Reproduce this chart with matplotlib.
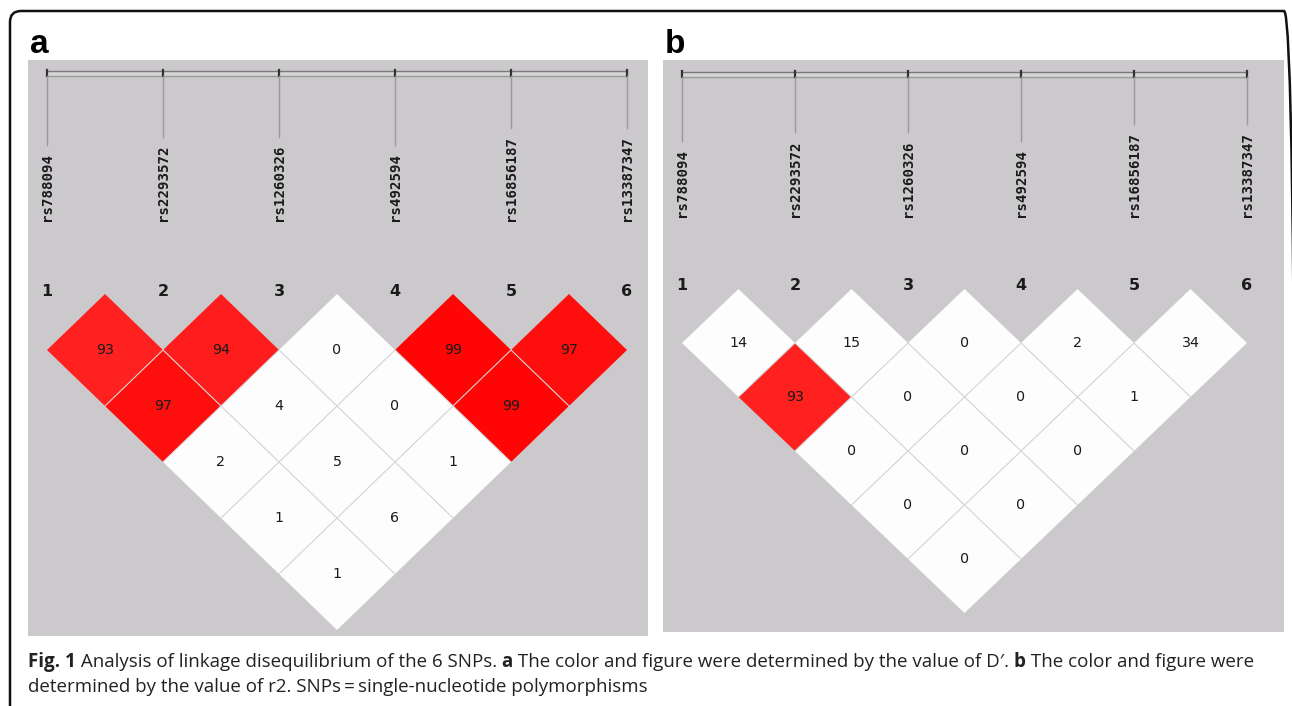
import numpy as np
import matplotlib.pyplot as plt
from matplotlib.patches import Polygon, FancyBboxPatch
from matplotlib.text import Annotation

snps = ['rs788094', 'rs2293572', 'rs1260326', 'rs492594', 'rs16856187', 'rs13387347']

# LD values, one row per distance (row 1 = neighbouring SNPs)
dprime = [[93, 94, 0, 99, 97],
          [97, 4, 0, 99],
          [2, 5, 1],
          [1, 6],
          [1]]
rsq = [[14, 15, 0, 2, 34],
       [93, 0, 0, 1],
       [0, 0, 0],
       [0, 0],
       [0]]

W, H = 1292, 706
bg = '#cbc9cc'


def ld_color(v):
    if v < 90:
        return '#fdfdfd'
    g = min(1.0, (100 - v) / 100 * 1.8)
    return (1.0, g, g)


def draw_panel(ax, values, box, snp0, step, y0, step_y, ruler, lab_bot, num_base):
    left, top, right, bottom = box
    py = lambda p: (p - y0) / step_y
    ax.set_facecolor(bg)
    ax.set_xlim(1 - (snp0 - left) / step, 1 + (right - snp0) / step)
    ax.set_ylim(py(bottom), py(top))
    ax.set_xticks([])
    ax.set_yticks([])
    for s in ax.spines.values():
        s.set_visible(False)

    n = len(snps)
    xs = np.arange(1, n + 1)

    # ruler
    r0, r1 = py(ruler), py(ruler + 5)
    ax.fill_between([1, n], r0, r1, color='#d6d5d7', lw=0)
    ax.plot([1, n], [r0, r0], color='#7a7a7a', lw=1.0)
    ax.plot([1, n], [r1, r1], color='#9a9a9a', lw=1.0)
    for x in xs:
        ax.plot([x, x], [py(ruler - 1), py(ruler + 5.5)], color='#333333', lw=1.6)

    # snp names and numbers
    labels = []
    for x, name in zip(xs, snps):
        t = ax.text(x, py(lab_bot), name, rotation=90, ha='center', va='bottom',
                    family='DejaVu Sans Mono', fontweight='bold', fontsize=10.2,
                    color='#1a1a1a')
        labels.append(t)
        ax.text(x, py(num_base), str(x), ha='center', va='baseline', fontweight='bold',
                fontsize=11.5, color='#1a1a1a')
    ax.figure.canvas.draw()
    inv = ax.transData.inverted()
    for x, t in zip(xs, labels):
        bb = t.get_window_extent()
        _, ytop = inv.transform((0, bb.y1 + 8))
        ax.plot([x, x], [r1, ytop], color='#9a9a9a', lw=1.0)

    # diamonds
    for d, row in enumerate(values, start=1):
        for i, v in enumerate(row, start=1):
            cx = i + d / 2
            cy = d / 2
            pts = [(cx, cy - 0.5), (cx + 0.5, cy), (cx, cy + 0.5), (cx - 0.5, cy)]
            ax.add_patch(Polygon(pts, closed=True, facecolor=ld_color(v), edgecolor='none'))
            ax.text(cx, cy, str(v), ha='center', va='center', fontsize=10.3, color='#1a1a1a')
    # inner cell borders only
    for d, row in enumerate(values, start=1):
        for i, v in enumerate(row, start=1):
            cx = i + d / 2
            cy = d / 2
            if i > 1:
                ax.plot([cx - 0.5, cx], [cy, cy + 0.5], color='#d4d4d4', lw=0.8)
            if i + d < n:
                ax.plot([cx + 0.5, cx], [cy, cy + 0.5], color='#d4d4d4', lw=0.8)


fig = plt.figure(figsize=(W / 100, H / 100), dpi=100)


def rect(left, top, right, bottom):
    return [left / W, 1 - bottom / H, (right - left) / W, (bottom - top) / H]


# outer rounded frame (inch units so the corners stay round)
frame = FancyBboxPatch((0.10, -0.5), 12.85, H / 100 - 0.11 + 0.5,
                       boxstyle='round,pad=0,rounding_size=0.11',
                       transform=fig.dpi_scale_trans, facecolor='none',
                       edgecolor='#111111', lw=1.8, clip_on=False)
fig.patches.append(frame)

box_a = (28, 60, 648, 636)
box_b = (663, 60, 1284, 632)
ax_a = fig.add_axes(rect(*box_a))
ax_b = fig.add_axes(rect(*box_b))
draw_panel(ax_a, dprime, box_a, 47, 116, 294, 112, 71, 221, 296)
draw_panel(ax_b, rsq, box_b, 682, 113, 289, 108, 72, 217, 290)

fig.text(30 / W, 1 - 53 / H, 'a', fontsize=24, fontweight='bold',
         family='Liberation Sans', va='baseline')
fig.text(665 / W, 1 - 53 / H, 'b', fontsize=24, fontweight='bold',
         family='Liberation Sans', va='baseline')

# caption, mixed weights placed one after another
cap = dict(family='Open Sans', fontsize=13.5, color='#222222', va='baseline')
parts = [('Fig. 1', 'bold'),
         (' Analysis of linkage disequilibrium of the 6 SNPs. ', 'normal'),
         ('a', 'bold'),
         (' The color and figure were determined by the value of D\u2032. ', 'normal'),
         ('b', 'bold'),
         (' The color and figure were', 'normal')]
base1 = 1 - 667 / H
prev = fig.text(28 / W, base1, parts[0][0], fontweight=parts[0][1], **cap)
for txt, wt in parts[1:]:
    prev = fig.add_artist(Annotation(txt, xy=(1, base1), xycoords=(prev, 'figure fraction'),
                                     fontweight=wt, annotation_clip=False, **cap))
fig.text(28 / W, 1 - 692 / H,
         'determined by the value of r2. SNPs\u2009=\u2009single-nucleotide polymorphisms', **cap)

fig.savefig('out.png', dpi=100)
